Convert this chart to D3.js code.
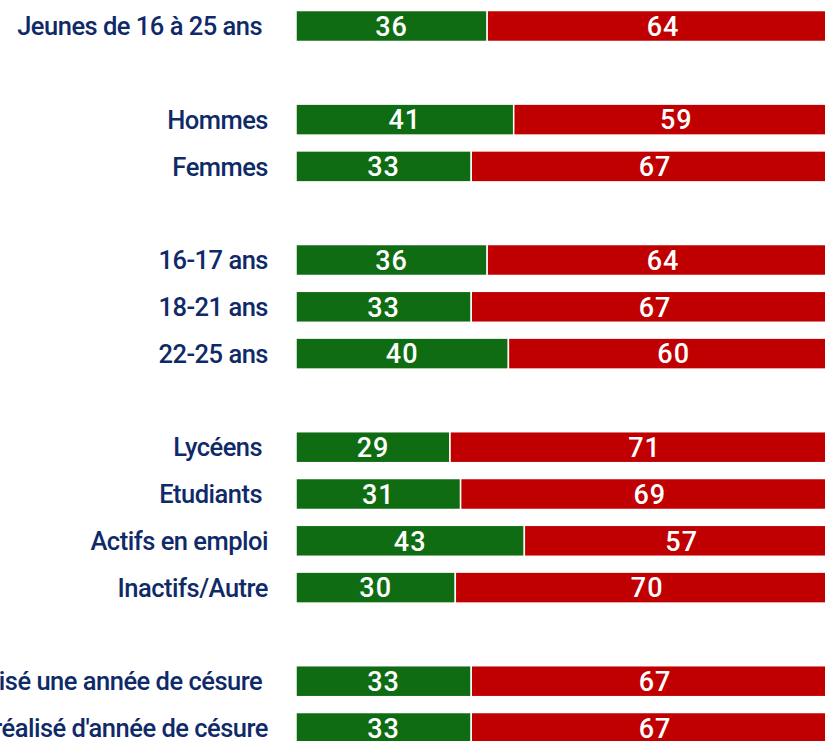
<!DOCTYPE html>
<html>
<head>
<meta charset="utf-8">
<script src="https://cdn.jsdelivr.net/npm/d3@7"></script>
<style>
  html, body { margin: 0; padding: 0; background: #fff; overflow: hidden; }
  svg { display: block; }
</style>
</head>
<body>
<svg id="chart" width="825" height="741"></svg>
<script>
// rows, empty strings are the gaps between groups
const categories = [
  "Jeunes de 16 à 25 ans ", "",
  "Hommes", "Femmes", "",
  "16-17 ans", "18-21 ans", "22-25 ans", "",
  "Lycéens ", "Etudiants ", "Actifs en emploi", "Inactifs/Autre", "",
  "A réalisé une année de césure ", "N'a pas réalisé d'année de césure",
];
const yes_values = [36, null, 41, 33, null, 36, 33, 40, null, 29, 31, 43, 30, null, 33, 33];
const no_values = [64, null, 59, 67, null, 64, 67, 60, null, 71, 69, 57, 70, null, 67, 67];

const green = "#0f6c12";
const red = "#c00000";
const navy = "#0f2a68";

const svg = d3.select("#chart");

const rows = categories.map((name, i) => ({
  i: i,
  name: name,
  yes: yes_values[i],
  no: no_values[i],
}));

const x = d3.scaleLinear().domain([0, 100]).range([296, 827]);
const y = d3
  .scaleBand()
  .domain(rows.map((d) => d.i))
  .range([2.6, 2.6 + 16 * 46.8])
  .paddingInner(0.338)
  .paddingOuter(0.169);

const bars = rows.filter((d) => d.yes !== null);

// green part
svg
  .selectAll("rect.yes")
  .data(bars)
  .enter()
  .append("rect")
  .attr("class", "yes")
  .attr("x", x(0))
  .attr("y", (d) => y(d.i))
  .attr("width", (d) => x(d.yes) - x(0))
  .attr("height", y.bandwidth())
  .attr("fill", green)
  .attr("stroke", "#fff")
  .attr("stroke-width", 1.5);

// red part
svg
  .selectAll("rect.no")
  .data(bars)
  .enter()
  .append("rect")
  .attr("class", "no")
  .attr("x", (d) => x(d.yes))
  .attr("y", (d) => y(d.i))
  .attr("width", (d) => x(d.yes + d.no) - x(d.yes))
  .attr("height", y.bandwidth())
  .attr("fill", red)
  .attr("stroke", "#fff")
  .attr("stroke-width", 1.5);

const value_font = "Roboto, 'DejaVu Sans', sans-serif";

svg
  .selectAll("text.yes")
  .data(bars)
  .enter()
  .append("text")
  .attr("class", "yes")
  .attr("x", (d) => (x(0) + x(d.yes)) / 2)
  .attr("y", (d) => y(d.i) + y.bandwidth() / 2)
  .attr("dy", "0.36em")
  .attr("text-anchor", "middle")
  .attr("fill", "#fff")
  .style("font-family", value_font)
  .style("font-weight", 500)
  .style("font-size", "27px")
  .style("letter-spacing", "1px")
  .text((d) => d.yes);

svg
  .selectAll("text.no")
  .data(bars)
  .enter()
  .append("text")
  .attr("class", "no")
  .attr("x", (d) => (x(d.yes) + x(d.yes + d.no)) / 2 + 6)
  .attr("y", (d) => y(d.i) + y.bandwidth() / 2)
  .attr("dy", "0.36em")
  .attr("text-anchor", "middle")
  .attr("fill", "#fff")
  .style("font-family", value_font)
  .style("font-weight", 500)
  .style("font-size", "27px")
  .style("letter-spacing", "1px")
  .text((d) => d.no);

// row labels
svg
  .selectAll("text.label")
  .data(bars)
  .enter()
  .append("text")
  .attr("class", "label")
  .attr("x", 268)
  .attr("y", (d) => y(d.i) + y.bandwidth() / 2)
  .attr("dy", "0.36em")
  .attr("text-anchor", "end")
  .attr("fill", navy)
  .attr("xml:space", "preserve")
  .style("white-space", "pre")
  .style("font-family", "Roboto, sans-serif")
  .style("font-weight", 500)
  .style("font-size", "25.5px")
  .style("letter-spacing", "-0.5px")
  .text((d) => d.name);
</script>
</body>
</html>
